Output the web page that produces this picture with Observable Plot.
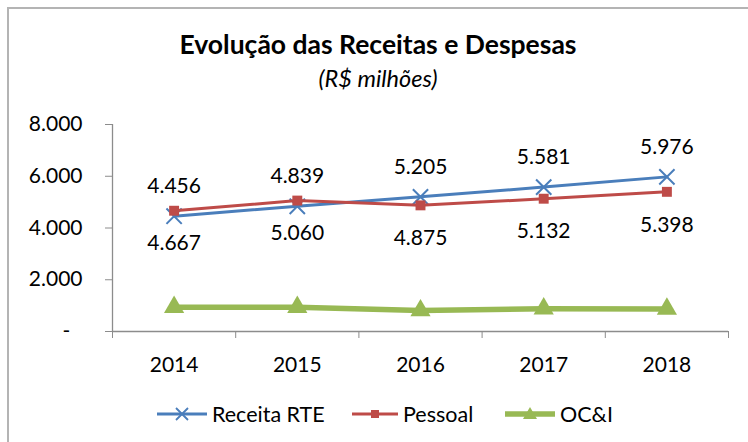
<!DOCTYPE html>
<html><head><meta charset="utf-8">
<script src="https://cdn.jsdelivr.net/npm/d3@7"></script>
<script src="https://cdn.jsdelivr.net/npm/@observablehq/plot@0.6"></script>
<style>
body{margin:0;background:#fff;}
#wrap{position:relative;width:748px;height:442px;overflow:hidden;font-family:Lato,"Open Sans",sans-serif;color:#000;background:#fff;}
#frame{position:absolute;left:7px;top:7px;width:800px;height:500px;border-left:2px solid #b4b4b4;border-top:2px solid #b4b4b4;}
#title{position:absolute;left:8px;width:740px;top:29px;text-align:center;font-weight:bold;font-size:26.5px;line-height:30px;}
#subtitle{position:absolute;left:8px;width:740px;top:64px;text-align:center;font-style:italic;font-size:23.5px;line-height:28px;}
#chart{position:absolute;left:0;top:0;}
.item{position:absolute;top:402px;height:24px;display:flex;align-items:center;font-size:21.5px;white-space:nowrap;}
.item svg{display:block;margin-right:4px;}
</style></head>
<body>
<div id="wrap">
  <div id="frame"></div>
  <div id="chart"></div>
  <div id="title"></div>
  <div id="subtitle"></div>
  <div id="legend"></div>
</div>
<script>
const years = [2014, 2015, 2016, 2017, 2018];
const receita = [4456, 4839, 5205, 5581, 5976];
const pessoal = [4667, 5060, 4875, 5132, 5398];
const oci = [940, 940, 810, 880, 870];
const yTicks = [0, 2000, 4000, 6000, 8000];
const seriesNames = ["Receita RTE", "Pessoal", "OC&I"];
const colors = ["#4A7EBB", "#BE4B48", "#98B954"];
const titleText = "Evolução das Receitas e Despesas";
const subtitleText = "(R$ milhões)";

document.getElementById("title").textContent = titleText;
document.getElementById("subtitle").textContent = subtitleText;

const fmt = d3.formatLocale({decimal: ",", thousands: ".", grouping: [3], currency: ["R$", ""]}).format(",.0f");
const rows = (vals) => years.map((y, i) => ({year: y, value: vals[i]}));
const rRows = rows(receita), pRows = rows(pessoal), oRows = rows(oci);
const bounds = years.map(y => y - 0.5).concat([years[years.length - 1] + 0.5]);
const axisColor = "#8c8c8c";

const chart = Plot.plot({
  width: 748, height: 442,
  marginLeft: 112, marginRight: 20, marginTop: 124, marginBottom: 111,
  x: {type: "linear", domain: [bounds[0], bounds[bounds.length - 1]]},
  y: {domain: [0, 8000]},
  style: {fontFamily: "Lato, 'Open Sans', sans-serif", fontSize: "21px", color: "#000", background: "transparent"},
  marks: [
    Plot.ruleY([0], {stroke: axisColor, strokeWidth: 1.3}),
    Plot.ruleX([bounds[0]], {stroke: axisColor, strokeWidth: 1.3}),
    Plot.axisY({ticks: yTicks, tickSize: 7, tickPadding: 23, stroke: axisColor, fill: "#000", label: null,
      tickFormat: d => d === 0 ? "-\u2007" : fmt(d)}),
    Plot.axisX({ticks: bounds, tickSize: 7, stroke: axisColor, tickFormat: () => "", label: null}),
    Plot.axisX({ticks: years, tickSize: 0, tickPadding: 26, fill: "#000", tickFormat: d => String(d), label: null}),
    Plot.line(rRows, {x: "year", y: "value", stroke: colors[0], strokeWidth: 3}),
    Plot.dot(rRows, {x: "year", y: "value", symbol: "times", r: 7, stroke: colors[0], strokeWidth: 2}),
    Plot.line(pRows, {x: "year", y: "value", stroke: colors[1], strokeWidth: 3}),
    Plot.dot(pRows, {x: "year", y: "value", symbol: "square", r: 5.6, fill: colors[1], stroke: "none"}),
    Plot.line(oRows, {x: "year", y: "value", stroke: colors[2], strokeWidth: 5.5}),
    Plot.dot(oRows, {x: "year", y: "value", symbol: "triangle", r: 7.5, fill: colors[2], stroke: "none"}),
    Plot.text(rRows, {x: "year", y: "value", text: d => fmt(d.value), dy: -30, fontSize: 21, fill: "#000"}),
    Plot.text(pRows, {x: "year", y: "value", text: d => fmt(d.value), dy: 33, fontSize: 21, fill: "#000"})
  ]
});
document.getElementById("chart").appendChild(chart);

// legend
const legendLeft = [156, 351, 504];
const markers = [
  c => `<line x1="1" y1="12" x2="51" y2="12" stroke="${c}" stroke-width="3"/><path d="M20,6L32,18M32,6L20,18" stroke="${c}" stroke-width="1.8"/>`,
  c => `<line x1="1" y1="12" x2="47" y2="12" stroke="${c}" stroke-width="3"/><rect x="20" y="8" width="8" height="8" fill="${c}"/>`,
  c => `<line x1="1" y1="12" x2="51" y2="12" stroke="${c}" stroke-width="5.5"/><path d="M26,5L33,17L19,17Z" fill="${c}"/>`
];
const leg = document.getElementById("legend");
seriesNames.forEach((name, i) => {
  const d = document.createElement("div");
  d.className = "item";
  d.style.left = legendLeft[i] + "px";
  const w = i === 1 ? 48 : 52;
  d.innerHTML = `<svg width="${w}" height="24">${markers[i](colors[i])}</svg><span></span>`;
  d.querySelector("span").textContent = name;
  leg.appendChild(d);
});
</script>
</body></html>
